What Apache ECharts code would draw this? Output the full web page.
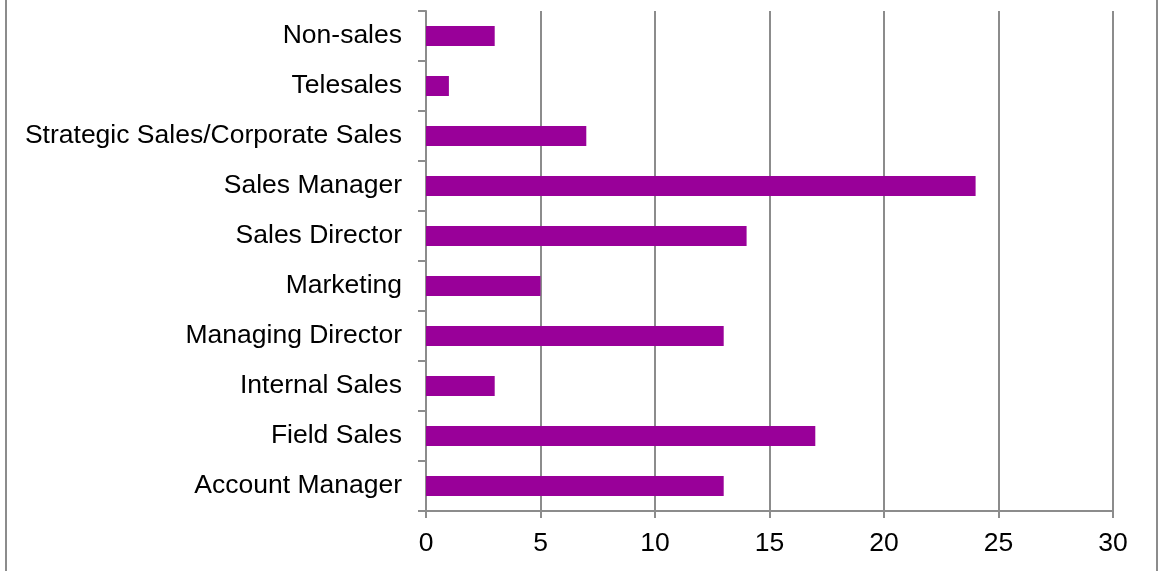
<!DOCTYPE html>
<html><head><meta charset="utf-8">
<script src="https://cdn.jsdelivr.net/npm/echarts@6/dist/echarts.min.js"></script>
<style>
html,body{margin:0;padding:0;background:#fff;}
#wrap{position:relative;width:1159px;height:571px;}
#chart{width:1159px;height:571px;}
.vl{position:absolute;top:0;height:571px;width:2px;background:#8c8c8c;}
</style></head>
<body>
<div id="wrap"><div id="chart"></div>
<div class="vl" style="left:5px"></div>
<div class="vl" style="left:1156px"></div>
</div>
<script>
const categories = ["Account Manager","Field Sales","Internal Sales","Managing Director","Marketing","Sales Director","Sales Manager","Strategic Sales/Corporate Sales","Telesales","Non-sales"];
const values = [13,17,3,13,5,14,24,7,1,3];
const xTicks = {min:0,max:30,interval:5};

const chart = echarts.init(document.getElementById('chart'), null, {renderer:'canvas'});
const axisGray = '#8c8c8c';
chart.setOption({
  animation:false,
  grid:{left:426,right:46,top:11,bottom:60,containLabel:false},
  xAxis:{type:'value',min:xTicks.min,max:xTicks.max,interval:xTicks.interval,
    axisLine:{show:true,lineStyle:{color:axisGray,width:2}},
    axisTick:{show:true,length:7,lineStyle:{color:axisGray,width:2}},
    splitLine:{show:true,lineStyle:{color:axisGray,width:2}},
    axisLabel:{color:'#000',fontSize:26.5,fontFamily:'Liberation Sans, Arial',margin:19}},
  yAxis:{type:'category',data:categories,
    axisLine:{show:true,lineStyle:{color:axisGray,width:2}},
    axisTick:{show:true,length:8,lineStyle:{color:axisGray,width:2}},
    splitLine:{show:false},
    axisLabel:{color:'#000',fontSize:26.5,fontFamily:'Liberation Sans, Arial',margin:24,padding:[4,0,0,0]}},
  series:[{type:'bar',data:values,barWidth:20,itemStyle:{color:'#990099'}}]
});
</script>
</body></html>
